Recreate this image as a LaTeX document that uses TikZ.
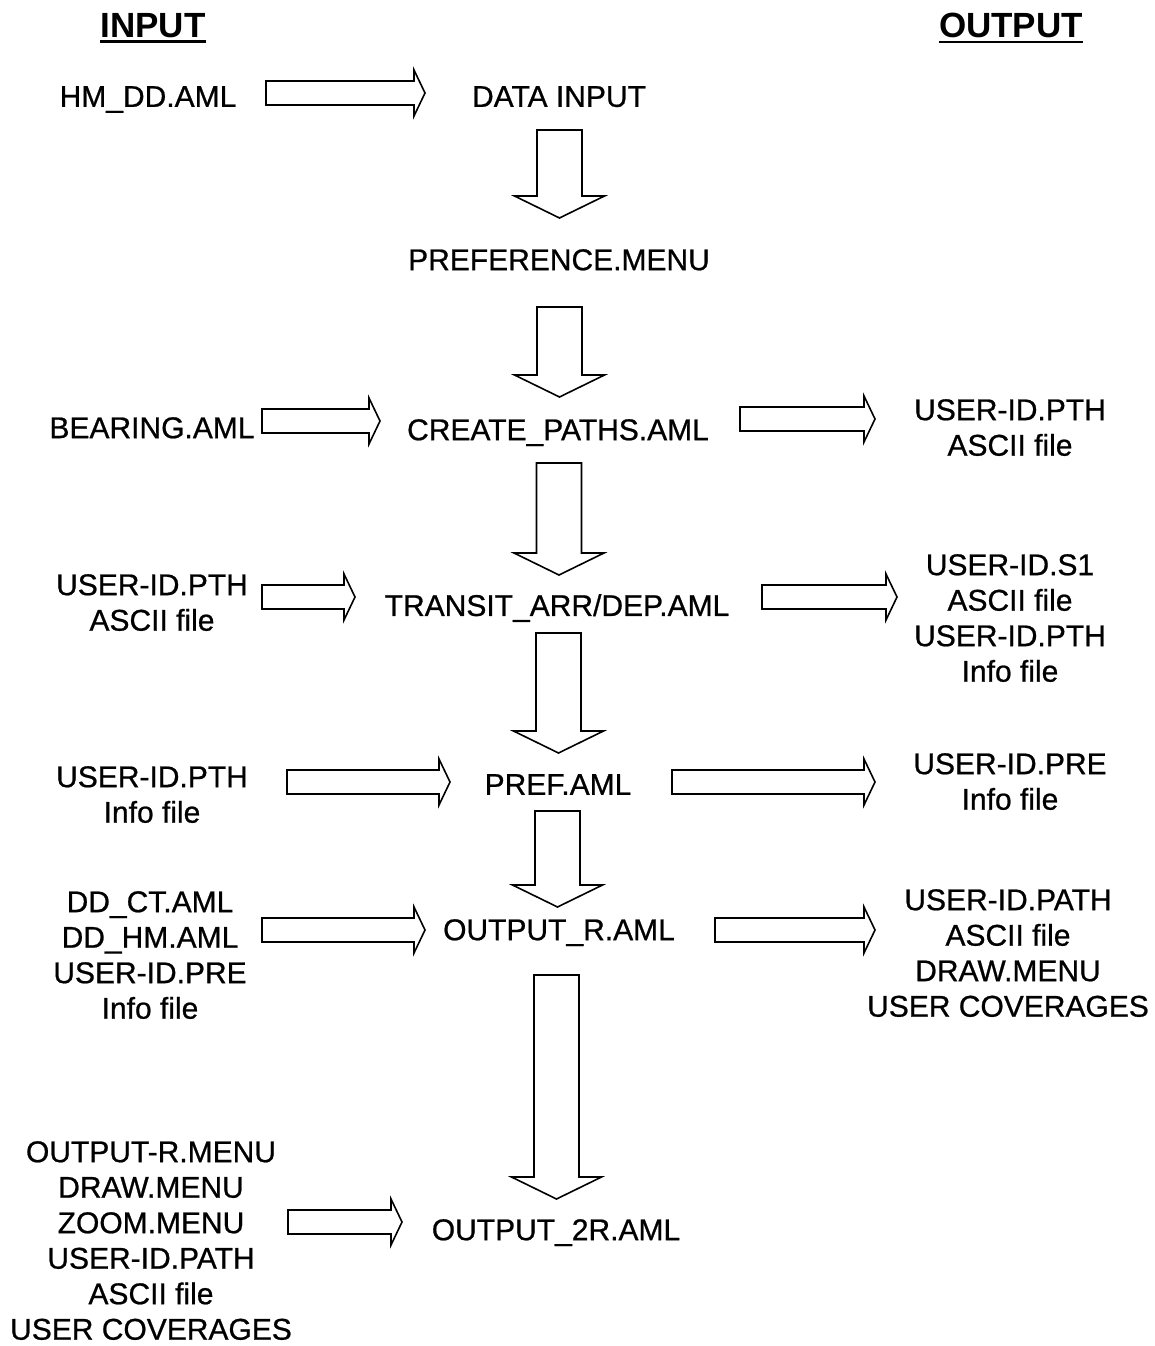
\documentclass[tikz,border=0pt]{standalone}
\usepackage{fontspec}
\setmainfont{Liberation Sans}
\newfontfamily\scanfont{Liberation Sans}[FakeBold=0.7]
\usetikzlibrary{calc}
\tikzset{
  lbl/.style={inner sep=0pt, anchor=north, align=center, font=\scanfont\fontsize{30}{35.5}\selectfont},
  hdr/.style={inner sep=0pt, anchor=north, font=\fontsize{35}{40}\selectfont\bfseries},
  blk/.style={draw=black, line width=1.6pt, fill=white, line join=miter},
  uline/.style={line width=2.6pt}
}
\newcommand\harrow[2]{\draw[blk] ($(#1)+(0,-12)$) -- ($(#2)+(-11,-12)$) -- ($(#2)+(-11,-23)$) -- (#2) -- ($(#2)+(-11,23)$) -- ($(#2)+(-11,12)$) -- ($(#1)+(0,12)$) -- cycle;}
\newcommand\varrow[2]{\draw[blk] ($(#1)+(-22.5,0)$) -- ($(#2)+(-22.5,-22)$) -- ($(#2)+(-45,-22)$) -- (#2) -- ($(#2)+(45,-22)$) -- ($(#2)+(22.5,-22)$) -- ($(#1)+(22.5,0)$) -- cycle;}
\begin{document}
\begin{tikzpicture}[x=1pt,y=-1pt]
\useasboundingbox[fill=white] (0,0) rectangle (1154,1346);
% headers
\node[hdr] (inp) at (153,13) {INPUT};
\node[hdr] (outp) at (1011,13) {OUTPUT};
\draw[uline] ([yshift=-4.5pt]inp.base west) -- ([yshift=-4.5pt]inp.base east);
\draw[uline] ([yshift=-4.5pt]outp.base west) -- ([yshift=-4.5pt]outp.base east);
% left column
\node[lbl] (hm) at (148,86) {HM\_DD.AML};
\node[lbl] (bear) at (152,417) {BEARING.AML};
\node[lbl] (pthin) at (152,574) {USER-ID.PTH\\ASCII file};
\node[lbl] (pthinfo) at (152,766) {USER-ID.PTH\\Info file};
\node[lbl] (ddin) at (150,891) {DD\_CT.AML\\DD\_HM.AML\\USER-ID.PRE\\Info file};
\node[lbl] (menuin) at (151,1141) {OUTPUT-R.MENU\\DRAW.MENU\\ZOOM.MENU\\USER-ID.PATH\\ASCII file\\USER COVERAGES};
% centre column
\node[lbl] (data) at (559,86) {DATA INPUT};
\node[lbl] (prefmenu) at (559,249) {PREFERENCE.MENU};
\node[lbl] (create) at (558,419) {CREATE\_PATHS.AML};
\node[lbl] (transit) at (557,594) {TRANSIT\_ARR/DEP.AML};
\node[lbl] (pref) at (558,774) {PREF.AML};
\node[lbl] (outr) at (559,919) {OUTPUT\_R.AML};
\node[lbl] (out2r) at (556,1219) {OUTPUT\_2R.AML};
% right column
\node[lbl] (pthout) at (1010,399) {USER-ID.PTH\\ASCII file};
\node[lbl] (s1out) at (1010,554) {USER-ID.S1\\ASCII file\\USER-ID.PTH\\Info file};
\node[lbl] (preout) at (1010,753) {USER-ID.PRE\\Info file};
\node[lbl] (pathout) at (1008,889) {USER-ID.PATH\\ASCII file\\DRAW.MENU\\USER COVERAGES};
% horizontal arrow ends
\coordinate (a1s) at (266,93);  \coordinate (a1e) at (425,93);
\coordinate (a2s) at (262,421); \coordinate (a2e) at (380,421);
\coordinate (a3s) at (740,419); \coordinate (a3e) at (875,419);
\coordinate (a4s) at (262,597); \coordinate (a4e) at (355,597);
\coordinate (a5s) at (762,597); \coordinate (a5e) at (897,597);
\coordinate (a6s) at (287,782); \coordinate (a6e) at (450,782);
\coordinate (a7s) at (672,782); \coordinate (a7e) at (875,782);
\coordinate (a8s) at (262,930); \coordinate (a8e) at (425,930);
\coordinate (a9s) at (715,930); \coordinate (a9e) at (875,930);
\coordinate (a10s) at (288,1222); \coordinate (a10e) at (402,1222);
\harrow{a1s}{a1e}
\harrow{a2s}{a2e}
\harrow{a3s}{a3e}
\harrow{a4s}{a4e}
\harrow{a5s}{a5e}
\harrow{a6s}{a6e}
\harrow{a7s}{a7e}
\harrow{a8s}{a8e}
\harrow{a9s}{a9e}
\harrow{a10s}{a10e}
% vertical arrow ends
\coordinate (v1s) at (559.5,130); \coordinate (v1e) at (559.5,218);
\coordinate (v2s) at (559.5,307); \coordinate (v2e) at (559.5,397);
\coordinate (v3s) at (559,463);   \coordinate (v3e) at (559,575);
\coordinate (v4s) at (558.5,633); \coordinate (v4e) at (558.5,753);
\coordinate (v5s) at (557.5,811); \coordinate (v5e) at (557.5,907);
\coordinate (v6s) at (556.5,975); \coordinate (v6e) at (556.5,1199);
\varrow{v1s}{v1e}
\varrow{v2s}{v2e}
\varrow{v3s}{v3e}
\varrow{v4s}{v4e}
\varrow{v5s}{v5e}
\varrow{v6s}{v6e}
\end{tikzpicture}
\end{document}
